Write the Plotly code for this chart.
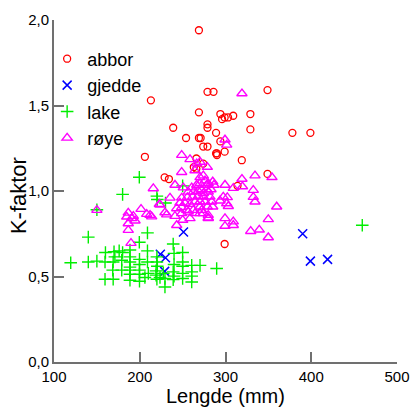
import plotly.graph_objects as go

# ---- data ----
abbor_x = [269, 213, 279, 286, 349, 269, 294, 299, 303, 309, 296, 329, 239, 279, 279, 329,
           254, 269, 271, 289, 378, 399, 294, 274, 279, 289, 290, 290, 299, 206, 266, 274,
           319, 263, 266, 229, 234, 349, 314, 299]
abbor_y = [1.94, 1.53, 1.58, 1.58, 1.59, 1.46, 1.45, 1.43, 1.43, 1.44, 1.42, 1.45, 1.37, 1.39, 1.37, 1.36,
           1.31, 1.31, 1.31, 1.34, 1.34, 1.34, 1.29, 1.26, 1.26, 1.22, 1.21, 1.22, 1.23, 1.20, 1.19, 1.16,
           1.18, 1.14, 1.13, 1.08, 1.07, 1.10, 1.03, 0.69]

gjedde_x = [390, 399, 419, 251, 224, 230, 229]
gjedde_y = [0.75, 0.59, 0.60, 0.76, 0.63, 0.61, 0.53]

lake_x = [150, 199.5, 180, 250, 220, 220.5, 230, 209, 140, 199.5, 239, 209, 160, 170, 176, 180,
          188.6, 240, 250, 119.5, 140, 150, 159.5, 169, 179, 171, 188.6, 188.6, 188.6, 199.7, 199.7,
          209, 220, 220, 220.5, 240, 250, 250, 260.6, 270.3, 289.7, 168.5, 179, 188.6, 188.6, 188.6,
          199.7, 199.7, 199.7, 159.5, 169, 210, 206, 219, 219, 220, 223.6, 229.4, 229.4, 227.5,
          239, 240, 239, 250, 250, 260.6, 260.6, 260.6, 459.5]
lake_y = [0.89, 1.08, 0.98, 1.03, 0.97, 0.95, 0.93, 0.755, 0.73, 0.70, 0.69, 0.65, 0.64, 0.645, 0.65, 0.64,
          0.655, 0.635, 0.64, 0.58, 0.585, 0.59, 0.585, 0.585, 0.595, 0.615, 0.615, 0.585, 0.555, 0.60, 0.57,
          0.585, 0.615, 0.585, 0.56, 0.57, 0.585, 0.56, 0.565, 0.565, 0.547, 0.537, 0.537, 0.537, 0.513, 0.478,
          0.537, 0.513, 0.472, 0.484, 0.484, 0.518, 0.494, 0.533, 0.508, 0.484, 0.494, 0.488, 0.439, 0.518,
          0.527, 0.502, 0.482, 0.518, 0.488, 0.527, 0.502, 0.468, 0.80]

roye_x = [319.2, 299.4, 301.4, 248.9, 258.6, 266.4, 270.3, 278.8, 248.9, 264.4, 274.1, 270.3, 334.4, 354.2,
          319.2, 215.8, 241.1, 250.8, 260.6, 266.4, 270.3, 276.1, 279.9, 285.1, 286.6, 278.1, 299.4, 309.1,
          319.8, 332.4, 256.6, 262.4, 268.3, 272.2, 278.1, 283.1, 279.9, 274.1, 235.3, 223.6, 248.9, 255.5,
          261.7, 268.3, 274.1, 281.9, 246.9, 252.8, 258.6, 264.4, 270.3, 276.1, 283.9, 293.6, 297.4, 302.1,
          301.4, 303.3, 332.4, 334.4, 201.5, 243.1, 248.9, 254.7, 262.4, 270.3, 278.8, 285.1, 359.7, 272.2,
          274.1, 279.9, 186.6, 192.5, 184.8, 190.6, 186.6, 194.5, 208.1, 212, 213.9, 229.4, 231.4, 241.1,
          248.9, 256.6, 264.4, 270.3, 279.9, 250.1, 258.6, 279.9, 299.4, 299.4, 309.1, 309.1, 349.9, 186.6,
          243.1, 329.4, 339.4, 349.9, 189.8, 150, 222.8]
roye_y = [1.57, 1.30, 1.27, 1.21, 1.185, 1.16, 1.17, 1.14, 1.11, 1.12, 1.09, 1.08, 1.09, 1.08,
          1.07, 1.015, 1.035, 1.02, 1.02, 1.035, 1.045, 1.06, 1.045, 1.054, 1.035, 1.035, 1.035, 1.017,
          1.026, 1.005, 0.995, 0.995, 1.00, 1.009, 1.009, 1.009, 0.995, 0.986, 0.96, 0.92, 0.96, 0.963,
          0.966, 0.97, 0.966, 0.966, 0.93, 0.93, 0.923, 0.937, 0.937, 0.937, 0.937, 0.943, 0.966, 0.963,
          0.927, 0.911, 0.964, 0.937, 0.894, 0.898, 0.904, 0.888, 0.888, 0.908, 0.908, 0.908, 0.908, 0.888,
          0.869, 0.844, 0.872, 0.853, 0.849, 0.84, 0.81, 0.826, 0.865, 0.859, 0.85, 0.874, 0.862, 0.853,
          0.869, 0.878, 0.869, 0.869, 0.859, 0.83, 0.84, 0.84, 0.84, 0.795, 0.821, 0.80, 0.834, 0.771,
          0.80, 0.765, 0.773, 0.728, 0.695, 0.888, 0.923]

x_ticks = [100, 200, 300, 400, 500]
y_ticks = [0.0, 0.5, 1.0, 1.5, 2.0]
x_title = "Lengde (mm)"
y_title = "K-faktor"

FONT = "Liberation Sans, Arial, sans-serif"
AXIS_COL = "#707070"

fig = go.Figure()


def add(name, xs, ys, symbol, color, size, lw):
    fig.add_trace(go.Scatter(
        x=xs, y=ys, mode="markers", name=name,
        marker=dict(symbol=symbol, size=size, color=color,
                    line=dict(color=color, width=lw)),
    ))


add("abbor", abbor_x, abbor_y, "circle-open", "#ff0000", 7, 1.3)
add("gjedde", gjedde_x, gjedde_y, "x-thin-open", "#0000ff", 9, 1.5)
add("lake", lake_x, lake_y, "cross-thin-open", "#00ee00", 9, 1.4)
add("røye", roye_x, roye_y, "triangle-up-open", "#ff00ff", 9, 1.4)

fig.update_layout(
    width=410, height=409,
    margin=dict(l=54, r=13, t=20, b=47),
    paper_bgcolor="white", plot_bgcolor="white",
    font=dict(family=FONT, size=15, color="black"),
    separators=", ",
    showlegend=True,
    legend=dict(x=-0.02, y=0.94, xanchor="left", yanchor="top",
                bgcolor="rgba(0,0,0,0)", font=dict(size=18), tracegroupgap=0),
    xaxis=dict(range=[100, 500], tickvals=x_ticks, ticks="inside", ticklen=10,
               tickwidth=1.5, tickcolor=AXIS_COL, showline=True, linecolor=AXIS_COL,
               linewidth=2, showgrid=False, zeroline=False, automargin=False),
    yaxis=dict(range=[0, 2], tickvals=y_ticks, tickformat=".1f", ticks="inside", ticklen=10,
               tickwidth=1.5, tickcolor=AXIS_COL, showline=True, linecolor=AXIS_COL,
               linewidth=2, showgrid=False, zeroline=False, automargin=False),
    annotations=[
        dict(text=x_title, xref="paper", yref="paper", x=0.5, y=-0.061,
             xanchor="center", yanchor="top", showarrow=False, font=dict(size=20)),
        dict(text=y_title, xref="paper", yref="paper", x=-0.105, y=0.488,
             xanchor="center", yanchor="middle", textangle=-90, showarrow=False,
             font=dict(size=22)),
    ],
)

fig.write_html("out.html")
